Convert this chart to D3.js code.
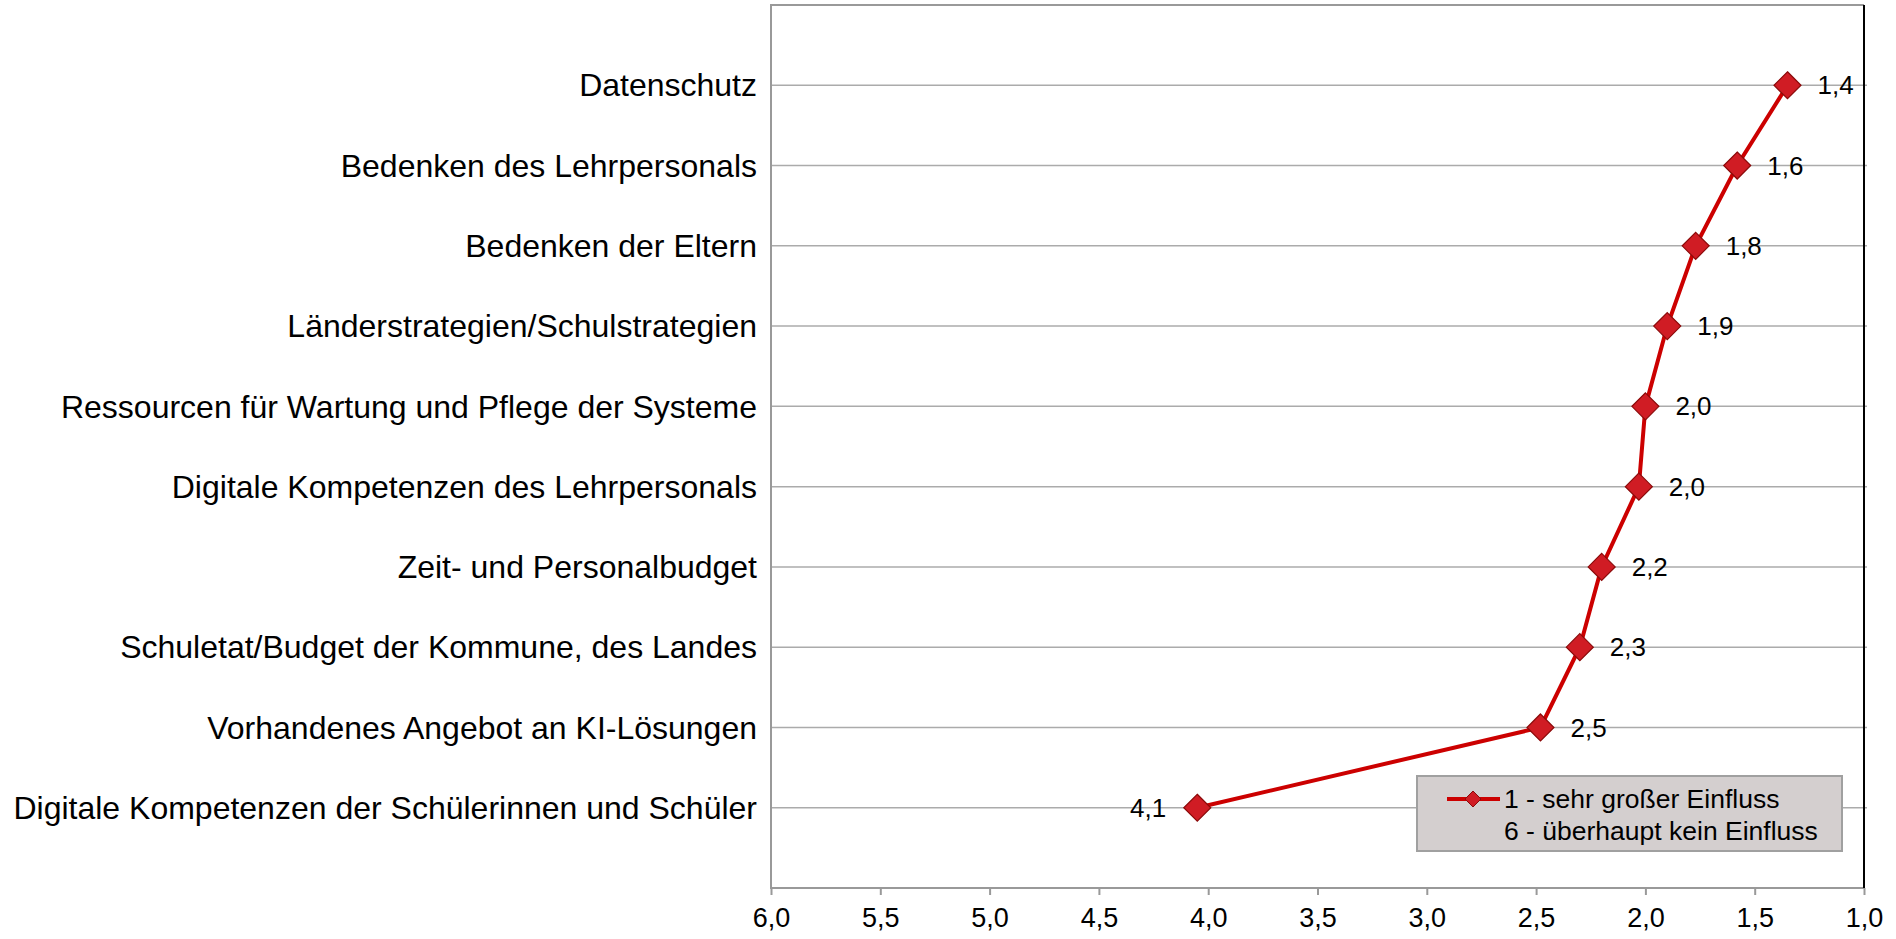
<!DOCTYPE html>
<html>
<head>
<meta charset="utf-8">
<script src="https://cdn.jsdelivr.net/npm/d3@7"></script>
<style>
  body { margin: 0; background: #fff; }
  text { font-family: Arial, "Liberation Sans", sans-serif; fill: #000; }
</style>
</head>
<body>
<svg id="chart"></svg>
<script>
// categories, top to bottom
const categories = [
    'Datenschutz',
    'Bedenken des Lehrpersonals',
    'Bedenken der Eltern',
    'Länderstrategien/Schulstrategien',
    'Ressourcen für Wartung und Pflege der Systeme',
    'Digitale Kompetenzen des Lehrpersonals',
    'Zeit- und Personalbudget',
    'Schuletat/Budget der Kommune, des Landes',
    'Vorhandenes Angebot an KI-Lösungen',
    'Digitale Kompetenzen der Schülerinnen und Schüler'
];
// mean rating (1 = very strong influence, 6 = none)
const values = [1.35, 1.58, 1.77, 1.90, 2.00, 2.03, 2.20, 2.30, 2.48, 4.05];
const valueLabels = ['1,4', '1,6', '1,8', '1,9', '2,0', '2,0', '2,2', '2,3', '2,5', '4,1'];
const xTicks = [6, 5.5, 5, 4.5, 4, 3.5, 3, 2.5, 2, 1.5, 1];
const legendLines = ['1 - sehr großer Einfluss', '6 - überhaupt kein Einfluss'];

const config = {
    width: 1896,
    height: 939,
    margin: {top: 5, right: 32, bottom: 51, left: 771}
};

const svg = d3.select('#chart')
    .attr('width', config.width)
    .attr('height', config.height);

const w = config.width - config.margin.left - config.margin.right;
const h = config.height - config.margin.top - config.margin.bottom;

const chart = svg.append('g')
    .attr('transform', `translate(${config.margin.left},${config.margin.top})`);

// reversed value axis: 6 on the left, 1 on the right
const xScale = d3.scaleLinear().domain([6, 1]).range([0, w]);
const yScale = d3.scalePoint().domain(categories).range([0, h]).padding(1);

// gridlines
chart.append('g')
    .selectAll('line')
    .data(categories)
    .join('line')
    .attr('x1', 0)
    .attr('x2', w + 3)
    .attr('y1', d => yScale(d))
    .attr('y2', d => yScale(d))
    .attr('stroke', '#ababab')
    .attr('stroke-width', 1.5);

// plot area border (left, top, bottom gray)
chart.append('path')
    .attr('d', `M${w},0H0V${h}H${w}`)
    .attr('fill', 'none')
    .attr('stroke', '#999')
    .attr('stroke-width', 2);

// category axis line on the right
chart.append('line')
    .attr('x1', w).attr('x2', w)
    .attr('y1', 0).attr('y2', h)
    .attr('stroke', '#000')
    .attr('stroke-width', 2);

// x axis
const xAxis = d3.axisBottom(xScale)
    .tickValues(xTicks)
    .tickSize(7)
    .tickPadding(13)
    .tickFormat(d => d3.format('.1f')(d).replace('.', ','));

const xAxisG = chart.append('g')
    .attr('transform', `translate(0,${h})`)
    .call(xAxis);
xAxisG.select('.domain').remove();
xAxisG.selectAll('.tick line').attr('stroke', '#999').attr('stroke-width', 2);
xAxisG.selectAll('.tick text')
    .attr('font-size', 27)
    .attr('font-family', 'Arial, "Liberation Sans", sans-serif')
    .attr('fill', '#000');

// category labels
chart.append('g')
    .selectAll('text')
    .data(categories)
    .join('text')
    .attr('x', -14)
    .attr('y', d => yScale(d))
    .attr('dy', '0.35em')
    .attr('text-anchor', 'end')
    .attr('font-size', 32)
    .text(d => d);

// line
const points = categories.map((c, i) => ({cat: c, value: values[i], label: valueLabels[i]}));

chart.append('path')
    .datum(points)
    .attr('d', d3.line().x(d => xScale(d.value)).y(d => yScale(d.cat)))
    .attr('fill', 'none')
    .attr('stroke', '#cc0000')
    .attr('stroke-width', 4);

const diamond = s => `M0,${-s}L${s},0L0,${s}L${-s},0Z`;

chart.append('g')
    .selectAll('path')
    .data(points)
    .join('path')
    .attr('transform', d => `translate(${xScale(d.value)},${yScale(d.cat)})`)
    .attr('d', diamond(13.5))
    .attr('fill', '#d01c24')
    .attr('stroke', '#8b0a0a')
    .attr('stroke-width', 1.2);

// value labels (right of the marker, except the far-left one)
chart.append('g')
    .selectAll('text')
    .data(points)
    .join('text')
    .attr('x', d => xScale(d.value) + (d.value > 3 ? -31 : 30))
    .attr('y', d => yScale(d.cat))
    .attr('dy', '0.35em')
    .attr('text-anchor', d => d.value > 3 ? 'end' : 'start')
    .attr('font-size', 26)
    .text(d => d.label);

// legend
const legend = svg.append('g').attr('transform', 'translate(1417,776)');
legend.append('rect')
    .attr('width', 425)
    .attr('height', 75)
    .attr('fill', '#d4cfcf')
    .attr('stroke', '#a0a0a0')
    .attr('stroke-width', 2);
legend.append('line')
    .attr('x1', 30).attr('x2', 83)
    .attr('y1', 23).attr('y2', 23)
    .attr('stroke', '#cc0000')
    .attr('stroke-width', 4);
legend.append('path')
    .attr('transform', 'translate(56,23)')
    .attr('d', diamond(8))
    .attr('fill', '#d01c24')
    .attr('stroke', '#8b0a0a')
    .attr('stroke-width', 1);
legend.selectAll('text.leg')
    .data(legendLines)
    .join('text')
    .attr('class', 'leg')
    .attr('x', 87)
    .attr('y', (d, i) => 23 + i * 32)
    .attr('dy', '0.35em')
    .attr('font-size', 26.5)
    .text(d => d);
</script>
</body>
</html>
